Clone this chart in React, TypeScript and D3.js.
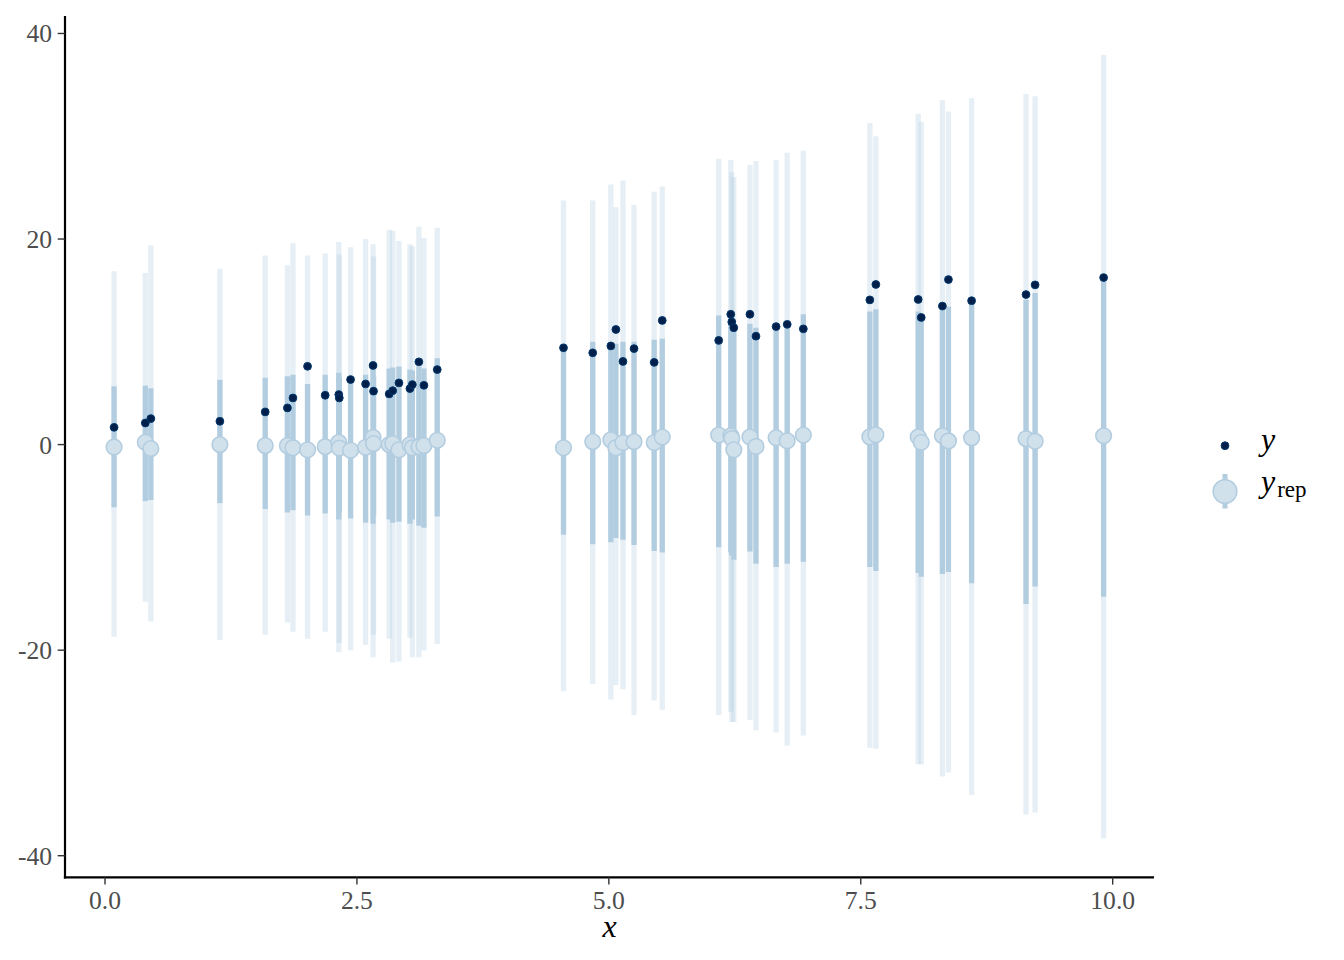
import React from "react";
import * as d3 from "d3";

// ---- data ----
const xValues = [
  0.09, 0.4, 0.455, 1.14, 1.59, 1.81, 1.865, 2.01, 2.185, 2.32, 2.325, 2.437, 2.586, 2.66, 2.665, 2.82, 2.855, 2.917, 3.026, 3.05, 3.115, 3.165, 3.297,
  4.55, 4.84, 5.02, 5.07, 5.14, 5.25, 5.45, 5.53,
  6.09, 6.21, 6.22, 6.24, 6.4, 6.46, 6.66, 6.77, 6.93,
  7.59, 7.65, 8.07, 8.1, 8.31, 8.37, 8.6,
  9.14, 9.23, 9.91,
];
const yObserved = [
  1.68, 2.1, 2.53, 2.27, 3.18, 3.57, 4.54, 7.62, 4.8, 4.87, 4.54, 6.33, 5.9, 7.7, 5.2, 4.93, 5.25, 6.0, 5.45, 5.84, 8.05, 5.77, 7.3,
  9.42, 8.93, 9.6, 11.2, 8.09, 9.34, 8.0, 12.08,
  10.14, 12.68, 11.93, 11.37, 12.68, 10.55, 11.48, 11.7, 11.26,
  14.08, 15.58, 14.12, 12.37, 13.48, 16.06, 14.0,
  14.6, 15.54, 16.25,
];
const repMedian = [
  -0.23, 0.23, -0.39, 0.0, -0.1, -0.1, -0.3, -0.5, -0.2, 0.22, -0.33, -0.55, -0.26, 0.7, 0.1, 0.0, 0.1, -0.5, 0.0, -0.3, -0.2, -0.1, 0.42,
  -0.31, 0.29, 0.46, -0.3, 0.2, 0.29, 0.2, 0.74,
  0.93, 0.85, 0.6, -0.5, 0.74, -0.18, 0.67, 0.37, 0.93,
  0.75, 0.96, 0.75, 0.23, 0.87, 0.36, 0.66,
  0.58, 0.33, 0.86,
];
const innerHigh = [
  5.67, 5.74, 5.48, 6.3, 6.5, 6.65, 6.8, 5.9, 6.8, 7.0, 6.5, 6.2, 6.8, 7.4, 6.6, 7.4, 7.5, 7.6, 7.3, 7.2, 7.6, 7.4, 8.4,
  9.3, 10.0, 9.9, 9.8, 10.0, 10.0, 10.2, 10.3,
  12.56, 12.4, 12.0, 11.5, 11.75, 11.37, 11.2, 11.56, 12.68,
  12.96, 13.18, 12.96, 12.6, 13.1, 13.4, 13.7,
  14.1, 14.74, 15.85,
];
const innerLow = [
  -6.1, -5.5, -5.4, -5.7, -6.26, -6.6, -6.4, -6.9, -6.7, -7.3, -6.6, -7.2, -7.6, -7.7, -6.9, -7.3, -7.6, -7.5, -7.7, -7.3, -7.9, -8.1, -7.0,
  -8.76, -9.7, -9.5, -9.1, -9.25, -9.77, -10.35, -10.5,
  -10.0, -10.5, -10.8, -11.2, -10.4, -11.6, -11.9, -11.6, -11.4,
  -11.9, -12.3, -12.5, -12.85, -12.6, -12.4, -13.5,
  -15.5, -13.8, -14.8,
];
const outerHigh = [
  16.87, 16.7, 19.4, 17.1, 18.4, 17.45, 19.6, 18.4, 18.6, 19.7, 18.5, 19.2, 20.0, 19.5, 18.3, 20.9, 20.8, 19.8, 19.5, 19.3, 21.2, 20.1, 21.1,
  23.76, 23.76, 25.3, 23.1, 25.7, 23.3, 24.6, 25.1,
  27.8, 27.7, 26.5, 26.0, 27.2, 27.6, 27.7, 28.4, 28.6,
  31.3, 30.0, 32.2, 31.4, 33.5, 32.4, 33.7,
  34.1, 33.9, 37.9,
];
const outerLow = [
  -18.7, -15.3, -17.2, -19.0, -18.5, -17.3, -18.2, -18.9, -18.2, -20.2, -19.3, -20.0, -19.5, -20.7, -18.5, -18.9, -21.2, -21.1, -18.8, -20.7, -20.7, -20.0, -19.4,
  -24.0, -23.3, -24.8, -23.4, -23.8, -26.3, -24.9, -25.8,
  -26.3, -26.0, -27.0, -27.0, -26.8, -27.8, -28.0, -29.3, -28.3,
  -29.5, -29.6, -31.1, -31.1, -32.3, -31.9, -34.1,
  -36.0, -35.8, -38.3,
];
const xTicks = [0, 2.5, 5, 7.5, 10];
const xTickLabels = ["0.0", "2.5", "5.0", "7.5", "10.0"];
const yTicks = [-40, -20, 0, 20, 40];
const yTickLabels = ["-40", "-20", "0", "20", "40"];

const LIGHT = "#d1e1ec";
const LIGHT_HI = "#b3cde0";
const DARK = "#011f4b";
const DARK_HI = "#03396c";
const FONT = "'Liberation Serif', 'Times New Roman', serif";

export default function App() {
  const W = 1344;
  const H = 960;
  const left = 65;
  const right = 1154;
  const top = 16;
  const bottom = 877.3;

  const x = d3.scaleLinear().domain([-0.397, 10.41]).range([left, right]);
  const y = d3.scaleLinear().domain([-42.1, 41.7]).range([bottom, top]);

  const idx = d3.range(xValues.length);

  return (
    <svg
      width={W}
      height={H}
      style={{ position: "absolute", left: 0, top: 0, background: "#fff" }}
      fontFamily={FONT}
    >
      <rect x={0} y={0} width={W} height={H} fill="#fff" />
      {/* outer intervals */}
      <g>
        {idx.map((i) => (
          <line
            key={"o" + i}
            x1={x(xValues[i])}
            x2={x(xValues[i])}
            y1={y(outerLow[i])}
            y2={y(outerHigh[i])}
            stroke={LIGHT_HI}
            strokeOpacity={0.33}
            strokeWidth={5.3}
          />
        ))}
      </g>
      {/* inner intervals */}
      <g>
        {idx.map((i) => (
          <line
            key={"i" + i}
            x1={x(xValues[i])}
            x2={x(xValues[i])}
            y1={y(innerLow[i])}
            y2={y(innerHigh[i])}
            stroke={LIGHT_HI}
            strokeWidth={5.3}
          />
        ))}
      </g>
      {/* medians */}
      <g>
        {idx.map((i) => (
          <circle
            key={"m" + i}
            cx={x(xValues[i])}
            cy={y(repMedian[i])}
            r={7.8}
            fill={LIGHT}
            stroke={LIGHT_HI}
            strokeWidth={1.6}
          />
        ))}
      </g>
      {/* observed */}
      <g>
        {idx.map((i) => (
          <circle
            key={"y" + i}
            cx={x(xValues[i])}
            cy={y(yObserved[i])}
            r={3.9}
            fill={DARK}
            stroke={DARK_HI}
            strokeWidth={1}
          />
        ))}
      </g>

      {/* axes */}
      <line x1={left} x2={left} y1={top} y2={bottom + 1.1} stroke="#000" strokeWidth={2.2} />
      <line x1={left - 1.1} x2={right} y1={bottom} y2={bottom} stroke="#000" strokeWidth={2.2} />
      {yTicks.map((t, k) => (
        <g key={"yt" + t}>
          <line x1={left - 7.3} x2={left} y1={y(t)} y2={y(t)} stroke="#333" strokeWidth={1.4} />
          <text
            x={left - 13}
            y={y(t)}
            dy="0.35em"
            textAnchor="end"
            fontSize={25.6}
            fill="#4d4d4d"
          >
            {yTickLabels[k]}
          </text>
        </g>
      ))}
      {xTicks.map((t, k) => (
        <g key={"xt" + t}>
          <line x1={x(t)} x2={x(t)} y1={bottom} y2={bottom + 7.3} stroke="#333" strokeWidth={1.4} />
          <text x={x(t)} y={908.5} textAnchor="middle" fontSize={25.6} fill="#4d4d4d">
            {xTickLabels[k]}
          </text>
        </g>
      ))}
      <text x={(left + right) / 2} y={937} textAnchor="middle" fontSize={32} fontStyle="italic" fill="#000">
        x
      </text>

      {/* legend */}
      <circle cx={1225} cy={445.7} r={3.9} fill={DARK} stroke={DARK_HI} strokeWidth={1} />
      <text x={1261} y={450} fontSize={32} fontStyle="italic" fill="#000">
        y
      </text>
      <line x1={1225} x2={1225} y1={474} y2={508.5} stroke={LIGHT_HI} strokeWidth={5} />
      <circle cx={1225} cy={491.5} r={11.8} fill={LIGHT} stroke={LIGHT_HI} strokeWidth={1.6} />
      <text x={1261} y={491.5} fontSize={32} fill="#000">
        <tspan fontStyle="italic">y</tspan>
        <tspan fontSize={23} dx={2} dy={5}>
          rep
        </tspan>
      </text>
    </svg>
  );
}
